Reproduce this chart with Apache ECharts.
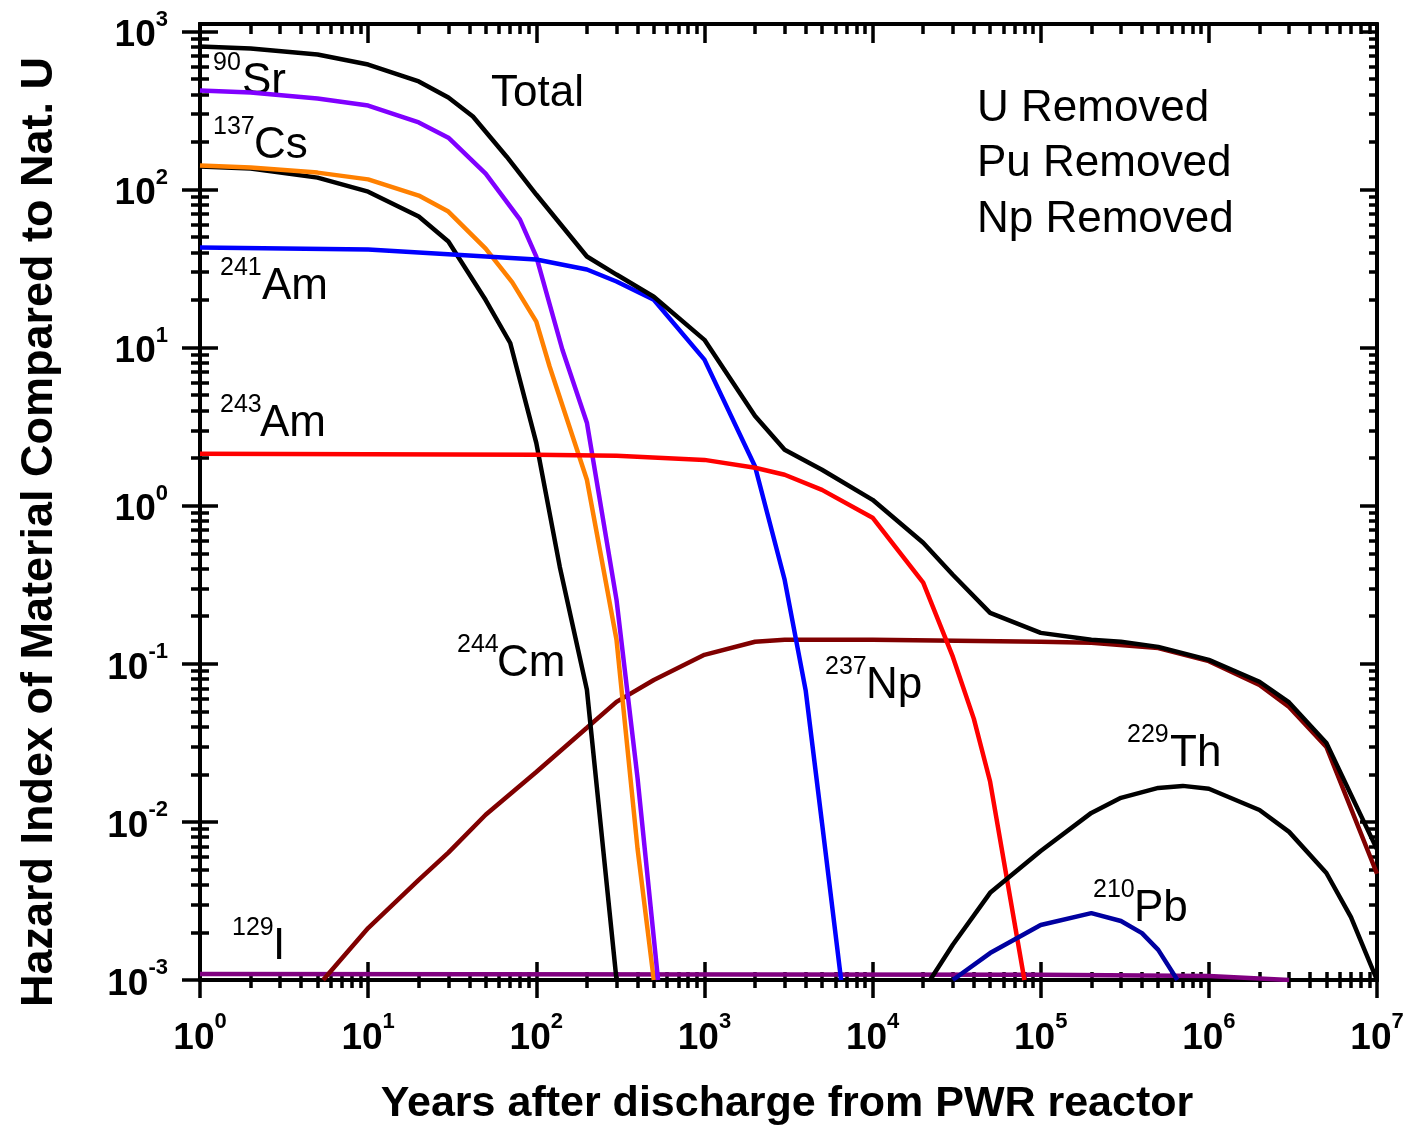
<!DOCTYPE html>
<html>
<head>
<meta charset="utf-8">
<script src="https://cdn.jsdelivr.net/npm/echarts@6/dist/echarts.min.js"></script>
<style>
html, body { margin: 0; padding: 0; background: #fff; }
#main { width: 1412px; height: 1132px; }
</style>
</head>
<body>
<div id="main"></div>
<script>
// hazard index vs years after discharge, [years, value]
var total = [[1,804],[2,780],[5,715],[10,618],[20,483],[30,382],[42,290],[66.5,162],[100,93],[200,37.7],[300,29],[500,21],[1000,11.2],[2000,3.7],[3000,2.26],[5000,1.69],[1e4,1.09],[2e4,0.583],[3e4,0.366],[5e4,0.21],[1e5,0.157],[2e5,0.142],[3e5,0.138],[5e5,0.128],[1e6,0.106],[2e6,0.077],[3e6,0.057],[5e6,0.0316],[1e7,0.0067]];
var sr90 = [[1,423],[2,411],[5,377],[10,340],[20,266],[30,213],[50,126],[80,64.6],[100,37.7],[143,9.7],[200,3.35],[300,0.254],[400,0.019],[530,0.001]];
var cs137 = [[1,142],[2,138],[5,128],[10,116],[20,91.6],[30,72.6],[50,42.3],[72,25.9],[100,14.6],[120,7.6],[200,1.46],[300,0.142],[400,0.0068],[500,0.001]];
var cm244 = [[1,140],[2,136],[5,119],[10,97],[20,67.5],[30,46.9],[50,20],[70,10.7],[100,2.5],[138,0.41],[200,0.0685],[300,0.001]];
var am241 = [[1,43],[10,41.7],[100,36.1],[200,31.2],[300,26.2],[500,20.1],[1000,8.4],[2000,1.77],[3000,0.34],[4000,0.068],[5000,0.0099],[6500,0.001]];
var am243 = [[1,2.13],[100,2.1],[300,2.07],[1000,1.95],[2000,1.74],[3000,1.57],[5000,1.26],[1e4,0.84],[2e4,0.326],[3e4,0.111],[4e4,0.045],[5e4,0.018],[8e4,0.001]];
var np237 = [[5.4,0.001],[10,0.00213],[20,0.0043],[30,0.0064],[50,0.0111],[100,0.0207],[200,0.0394],[300,0.0575],[500,0.079],[1000,0.114],[2000,0.138],[3000,0.142],[1e4,0.142],[1e5,0.138],[2e5,0.136],[5e5,0.126],[1e6,0.104],[2e6,0.0736],[3e6,0.0534],[5e6,0.0298],[1e7,0.0047]];
var th229 = [[2.2e4,0.001],[3e4,0.00167],[5e4,0.00356],[1e5,0.00655],[2e5,0.0114],[3e5,0.0142],[5e5,0.0164],[7e5,0.0169],[1e6,0.0162],[2e6,0.0119],[3e6,0.00865],[5e6,0.00475],[7e6,0.0025],[1e7,0.001]];
var pb210 = [[3e4,0.001],[5e4,0.00148],[1e5,0.00223],[2e5,0.00265],[3e5,0.00236],[4e5,0.00198],[5e5,0.00155],[6.5e5,0.001]];
var i129 = [[1,0.00109],[1e5,0.00108],[1e6,0.00106],[3e6,0.001]];

var majorX = [1,10,100,1e3,1e4,1e5,1e6,1e7];
var majorY = [1e-3,1e-2,1e-1,1,10,100,1000];

function minors(lo, hi) {
  var out = [];
  for (var e = lo; e < hi; e++)
    for (var k = 2; k < 10; k++) out.push(+(k * Math.pow(10, e)).toPrecision(3));
  return out;
}
var minorX = minors(0, 7), minorY = minors(-3, 3);

var FONT = 'Liberation Sans, Arial, sans-serif';
var rich = {
  b: {fontFamily: FONT, fontWeight: 'bold', fontSize: 37, color: '#000', lineHeight: 46, verticalAlign: 'bottom'},
  s: {fontFamily: FONT, fontWeight: 'bold', fontSize: 22, color: '#000', lineHeight: 14, verticalAlign: 'top'}
};
function powLabel(v) {
  return '{b|10}{s|' + Math.round(Math.log10(v)) + '}';
}

function axis(dir, pos, inside, len, ticks, label) {
  var a = {
    type: 'log', logBase: 10, position: pos,
    min: dir === 'x' ? 1 : 1e-3,
    max: dir === 'x' ? 1e7 : 1115,
    axisLine: {show: true, onZero: false, lineStyle: {color: '#000', width: 4}},
    axisTick: {show: true, inside: inside, length: len, customValues: ticks,
               lineStyle: {color: '#000', width: 3.5}},
    minorTick: {show: false},
    splitLine: {show: false},
    axisLabel: {show: false}
  };
  if (label) {
    a.axisLabel = {show: true, customValues: dir === 'x' ? majorX : majorY,
                   margin: dir === 'x' ? 31 : 32, formatter: powLabel, rich: rich};
  }
  return a;
}

var xAxes = [
  axis('x', 'bottom', false, 18, majorX, true),
  axis('x', 'bottom', true, 18, majorX),
  axis('x', 'bottom', false, 8, minorX),
  axis('x', 'bottom', true, 8, minorX),
  axis('x', 'top', true, 19, majorX),
  axis('x', 'top', true, 10, minorX)
];
var yAxes = [
  axis('y', 'left', false, 18, majorY, true),
  axis('y', 'left', true, 18, majorY),
  axis('y', 'left', false, 9, minorY),
  axis('y', 'left', true, 9, minorY),
  axis('y', 'right', true, 17, majorY),
  axis('y', 'right', true, 8, minorY)
];

function line(name, data, color) {
  return {name: name, type: 'line', data: data, showSymbol: false, clip: true,
          lineStyle: {color: color, width: 4.5}, itemStyle: {color: color}};
}

// nuclide labels: superscript, symbol, sup x, symbol x, baseline
var notes = [
  ['90', 'Sr', 213, 242, 95],
  ['137', 'Cs', 213, 254, 159],
  ['241', 'Am', 220, 262, 300],
  ['243', 'Am', 220, 260, 437],
  ['244', 'Cm', 457, 497, 677],
  ['237', 'Np', 825, 866, 699],
  ['229', 'Th', 1127, 1170, 767],
  ['210', 'Pb', 1093, 1134, 922],
  ['129', 'I', 232, 273, 960]
];

function txt(x, base, s, size, weight, rot) {
  return {type: 'text', x: x, y: base - 0.31 * size, rotation: rot || 0,
          style: {text: s, fontFamily: FONT, fontSize: size, fontWeight: weight || 'normal',
                  fill: '#000', textAlign: 'left', textVerticalAlign: 'middle',
                  align: 'left', verticalAlign: 'middle'}};
}

var graphics = [];
notes.forEach(function (n) {
  graphics.push(txt(n[2], n[4] - 24, n[0], 25));
  graphics.push(txt(n[3], n[4], n[1], 44));
});
graphics.push(txt(491, 107, 'Total', 44));
graphics.push(txt(977, 122, 'U Removed', 44));
graphics.push(txt(977, 177, 'Pu Removed', 44));
graphics.push(txt(977, 233, 'Np Removed', 44));
graphics.push({type: 'text', x: 787, y: 1104,
  style: {text: 'Years after discharge from PWR reactor', fontFamily: FONT, fontSize: 43,
          fontWeight: 'bold', fill: '#000', textAlign: 'center', textVerticalAlign: 'middle',
          align: 'center', verticalAlign: 'middle'}});
graphics.push({type: 'text', x: 40, y: 532, rotation: Math.PI / 2,
  style: {text: 'Hazard Index of Material Compared to Nat. U', fontFamily: FONT, fontSize: 45,
          fontWeight: 'bold', fill: '#000', textAlign: 'center', textVerticalAlign: 'middle',
          align: 'center', verticalAlign: 'middle'}});

var myChart = echarts.init(document.getElementById('main'));
var option = {
  animation: false,
  backgroundColor: '#fff',
  grid: {left: 200, right: 35, top: 24, bottom: 152, containLabel: false},
  xAxis: xAxes,
  yAxis: yAxes,
  graphic: graphics,
  series: [
    line('129I', i129, '#800080'),
    line('237Np', np237, '#800000'),
    line('244Cm', cm244, '#000000'),
    line('137Cs', cs137, '#ff8000'),
    line('90Sr', sr90, '#8000ff'),
    line('241Am', am241, '#0000ff'),
    line('243Am', am243, '#ff0000'),
    line('229Th', th229, '#000000'),
    line('210Pb', pb210, '#0000a0'),
    line('Total', total, '#000000')
  ]
};
myChart.setOption(option);
window.onresize = function () { myChart.resize(); };
</script>
</body>
</html>
